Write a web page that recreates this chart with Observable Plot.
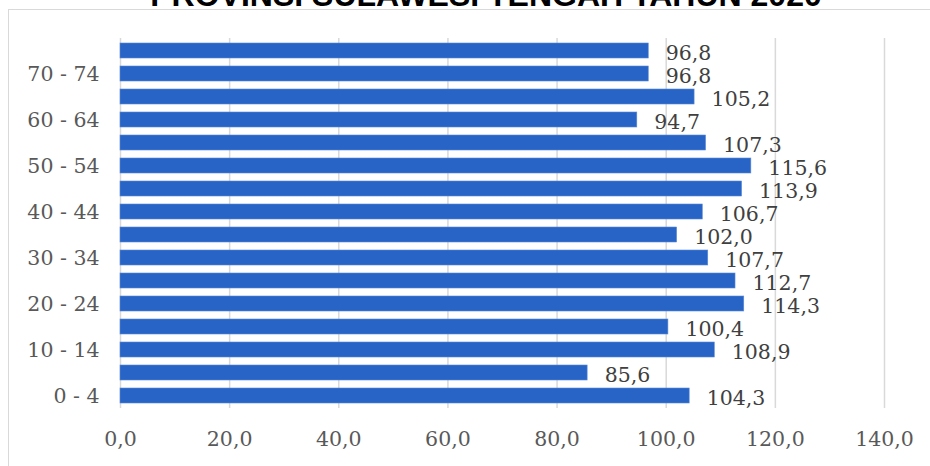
<!DOCTYPE html>
<html>
<head>
<meta charset="utf-8">
<script src="https://cdn.jsdelivr.net/npm/d3@7"></script>
<script src="https://cdn.jsdelivr.net/npm/@observablehq/plot@0.6"></script>
<style>
  html, body { margin: 0; padding: 0; background: #fff; overflow: hidden; }
  #wrap { position: relative; width: 930px; height: 466px; overflow: hidden; }
  #frame {
    position: absolute; left: 8px; top: 9px; width: 940px; height: 480px;
    border-top: 1.5px solid #d9d9d9; border-left: 1.5px solid #d9d9d9;
    box-sizing: border-box;
  }
  #title {
    position: absolute; left: 0; width: 972px; text-align: center;
    top: -23px; line-height: 32px;
    font: bold 32px "Liberation Sans", Arial, sans-serif; color: #000;
    white-space: nowrap;
  }
  #chart { position: absolute; left: 0; top: 0; }
</style>
</head>
<body>
<div id="wrap">
  <div id="frame"></div>
  <div id="title">PROVINSI SULAWESI TENGAH TAHUN 2020</div>
  <div id="chart"></div>
</div>
<script>
// Sex ratio by five-year age group (males per 100 females)
const ageGroups = ["0 - 4", "5 - 9", "10 - 14", "15 - 19", "20 - 24", "25 - 29", "30 - 34", "35 - 39",
                   "40 - 44", "45 - 49", "50 - 54", "55 - 59", "60 - 64", "65 - 69", "70 - 74", "75+"];
const sexRatio = [104.3, 85.6, 108.9, 100.4, 114.3, 112.7, 107.7, 102.0,
                  106.7, 113.9, 115.6, 107.3, 94.7, 105.2, 96.8, 96.8];
const yTickLabels = ["0 - 4", "10 - 14", "20 - 24", "30 - 34", "40 - 44", "50 - 54", "60 - 64", "70 - 74"];
const xTicks = [0, 20, 40, 60, 80, 100, 120, 140];

const rows = ageGroups.map((g, i) => ({group: g, value: sexRatio[i]}));
const fmt = v => v.toFixed(1).replace(".", ",");

const chart = Plot.plot({
  width: 930,
  height: 466,
  marginLeft: 120,
  marginRight: 46,
  marginTop: 38,
  marginBottom: 58,
  style: {
    fontFamily: "'DejaVu Serif', serif",
    fontSize: "20.5px",
    color: "#595959",
    background: "transparent",
    overflow: "visible"
  },
  x: {domain: [0, 140]},
  y: {domain: ageGroups.slice().reverse(), paddingInner: 0.35, paddingOuter: 0.175},
  marks: [
    Plot.gridX(xTicks, {stroke: "#d9d9d9", strokeOpacity: 1, strokeWidth: 1.5}),
    Plot.barX(rows, {x: "value", y: "group", fill: "#2764c6", stroke: "#5a8ad6", strokeWidth: 0.6}),
    Plot.text(rows, {
      x: "value", y: "group", text: d => fmt(d.value),
      textAnchor: "start", dx: 17, dy: 2, fill: "#404040"
    }),
    Plot.axisX(xTicks, {tickSize: 0, tickPadding: 23, tickFormat: fmt, fill: "#595959", label: null}),
    Plot.axisY(yTickLabels, {tickSize: 0, tickPadding: 21, fill: "#595959", label: null})
  ]
});
document.getElementById("chart").appendChild(chart);
</script>
</body>
</html>
